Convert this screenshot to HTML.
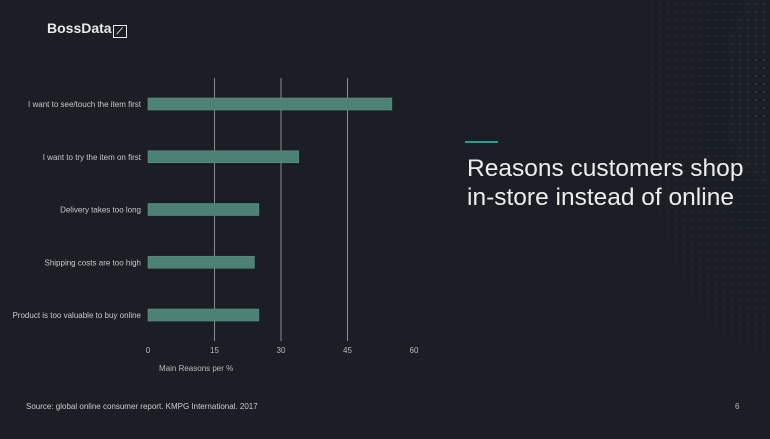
<!DOCTYPE html>
<html><head><meta charset="utf-8"><style>
body{margin:0;width:770px;height:439px;background:#1c1e25;overflow:hidden;font-family:"Liberation Sans",sans-serif;position:relative}
.t{position:absolute;white-space:nowrap}
</style></head><body>
<svg width="770" height="439" style="position:absolute;left:0;top:0">
<defs>
<pattern id="dots" width="8" height="8" patternUnits="userSpaceOnUse"><circle cx="4" cy="4" r="0.9" fill="#33524c"/></pattern>
<radialGradient id="fade" cx="1" cy="0.2" r="0.8"><stop offset="0" stop-color="#fff" stop-opacity="0.9"/><stop offset="1" stop-color="#fff" stop-opacity="0"/></radialGradient>
<mask id="m"><rect x="560" y="0" width="210" height="439" fill="url(#fade)"/></mask>
</defs>
<rect x="560" y="0" width="210" height="439" fill="url(#dots)" mask="url(#m)"/>
<g id="plot"></g>
</svg>
<div class="t" style="left:47px;top:20px;font-size:14px;font-weight:bold;color:#e8e8e8">BossData<span style="display:inline-block;width:12px;height:11px;border:1.2px solid #e8e8e8;margin-left:1px;vertical-align:-1px;font-size:9px;line-height:10px;text-align:center">⟋</span></div>
<div style="position:absolute;left:465px;top:141px;width:33px;height:2px;background:#1fa394"></div>
<div class="t" style="left:467px;top:154px;font-size:24.5px;line-height:29px;color:#ececec">Reasons customers shop<br>in-store instead of online</div>
<div class="t" style="left:159px;top:364px;font-size:8px;color:#bbb">Main Reasons per %</div>
<div class="t" style="left:26px;top:402px;font-size:8px;color:#ccc">Source: global online consumer report. KMPG International. 2017</div>
<div class="t" style="left:735px;top:402px;font-size:8px;color:#bbb">6</div>
<script>
const categories=["I want to see/touch the item first","I want to try the item on first","Delivery takes too long","Shipping costs are too high","Product is too valuable to buy online"];
const values=[55,34,25,24,25];
const ticks=[0,15,30,45,60];
const ns="http://www.w3.org/2000/svg";
const g=document.getElementById("plot");
const x=v=>148+v*(414-148)/60;
const y=i=>104+i*52.75;
function mk(t,a){const e=document.createElementNS(ns,t);for(const k in a)e.setAttribute(k,a[k]);g.appendChild(e);return e;}
ticks.forEach(t=>{
 if(t>0&&t<60){const l=mk("line",{x1:x(t),x2:x(t),y1:78,y2:341,stroke:"#8a8c90","stroke-width":1});
 
 }
 const tx=mk("text",{x:x(t),y:353,"text-anchor":"middle","font-size":8,fill:"#bbb","font-family":"Liberation Sans, sans-serif"});
 tx.textContent=t;
 
 
});
categories.forEach((c,i)=>{
 const r=mk("rect",{x:x(0),y:y(i)-6,width:x(values[i])-x(0),height:12,fill:"#4e8175",stroke:"#5a9184","stroke-width":0.6});
 
 
 const tx=mk("text",{x:141,y:y(i)+3,"text-anchor":"end","font-size":8,fill:"#c8c8c8","font-family":"Liberation Sans, sans-serif"});
 tx.textContent=c;
 
 
});
</script>
</body></html>
